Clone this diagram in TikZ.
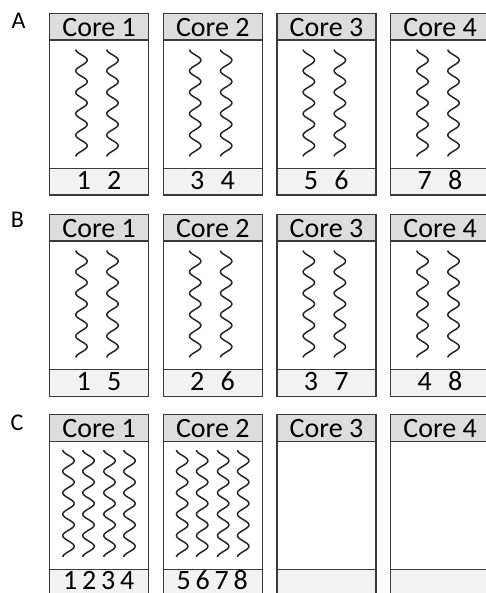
\documentclass[tikz,border=0pt]{standalone}
\usepackage{fontspec}
\setmainfont{Carlito}
\usetikzlibrary{calc}
\definecolor{hdr}{HTML}{DDDDDD}
\definecolor{ftr}{HTML}{F2F2F2}
\definecolor{edgec}{HTML}{3A3A3A}
\newcommand\wavy[2]{\draw[wavestyle] plot[variable=\t,domain=0:107,samples=160] ({#1-5.7*cos(16.822*\t)},{#2+\t});}
\begin{document}
\begin{tikzpicture}[x=1pt,y=-1pt,
  boxbase/.style={draw=edgec,line width=1.2pt,minimum width=99pt,inner sep=0pt,anchor=north west},
  hdrbox/.style={boxbase,fill=hdr,minimum height=26.5pt},
  bodybox/.style={boxbase,fill=white,minimum height=128.5pt},
  ftrbox/.style={boxbase,fill=ftr,minimum height=26.5pt},
  hdrtext/.style={inner sep=0pt,anchor=base,font=\fontsize{28}{28}\selectfont},
  num/.style={inner sep=0pt,anchor=base,font=\fontsize{28}{28}\selectfont},
  panellabel/.style={inner sep=0pt,anchor=base,font=\fontsize{24}{24}\selectfont},
  wavestyle/.style={line width=1.5pt,black!85}]
\useasboundingbox (0,0) rectangle (486,593);
\clip (0,0) rectangle (486,593);
% panel labels
\node[panellabel] (lA) at (18.5,29) {A};
\node[panellabel] (lB) at (17.5,228) {B};
\node[panellabel] (lC) at (17,430) {C};
% panels
\foreach \p/\ty in {A/13,B/214,C/414}{
  \foreach \i in {1,2,3,4}{
    \pgfmathsetmacro\L{49+113.67*(\i-1)}
    \node[bodybox] (\p b\i) at (\L,\ty+26.5) {};
    \node[hdrbox] (\p h\i) at (\L,\ty) {};
    \node[ftrbox] (\p f\i) at (\L,\ty+155) {};
    \node[hdrtext] (\p t\i) at ($(\p h\i.north)+(0,23.3)$) {Core \i};
  }
}
% Panel A and B waves (two per core)
\foreach \p/\ty in {A/13,B/214}{
  \foreach \i in {1,2,3,4}{
    \pgfmathsetmacro\C{98.5+113.67*(\i-1)}
    \wavy{\C-17}{\ty+36.5}
    \wavy{\C+14}{\ty+36.5}
  }
}
% Panel C waves (four per core, cores 1-2)
\foreach \i in {1,2}{
  \pgfmathsetmacro\C{98.5+113.67*(\i-1)}
  \foreach \d in {-30,-10,11,31}{
    \wavy{\C+\d}{450}
  }
}
% numbers
\foreach \p/\a/\b/\c/\d/\e/\f/\g/\h in {A/1/2/3/4/5/6/7/8,B/1/5/2/6/3/7/4/8}{
  \node[num] (\p n1) at ($(\p f1.north)+(-15.5,21.3)$) {\a};
  \node[num] (\p n2) at ($(\p f1.north)+(15,21.3)$) {\b};
  \node[num] (\p n3) at ($(\p f2.north)+(-15.5,21.3)$) {\c};
  \node[num] (\p n4) at ($(\p f2.north)+(15,21.3)$) {\d};
  \node[num] (\p n5) at ($(\p f3.north)+(-15.5,21.3)$) {\e};
  \node[num] (\p n6) at ($(\p f3.north)+(15,21.3)$) {\f};
  \node[num] (\p n7) at ($(\p f4.north)+(-15.5,21.3)$) {\g};
  \node[num] (\p n8) at ($(\p f4.north)+(15,21.3)$) {\h};
}
\foreach \n/\c/\d in {1/1/-29,2/1/-10,3/1/9,4/1/28,5/2/-29,6/2/-10,7/2/9,8/2/28}{
  \node[num] (Cn\n) at ($(Cf\c.north)+(\d,20.5)$) {\n};
}
\end{tikzpicture}
\end{document}
